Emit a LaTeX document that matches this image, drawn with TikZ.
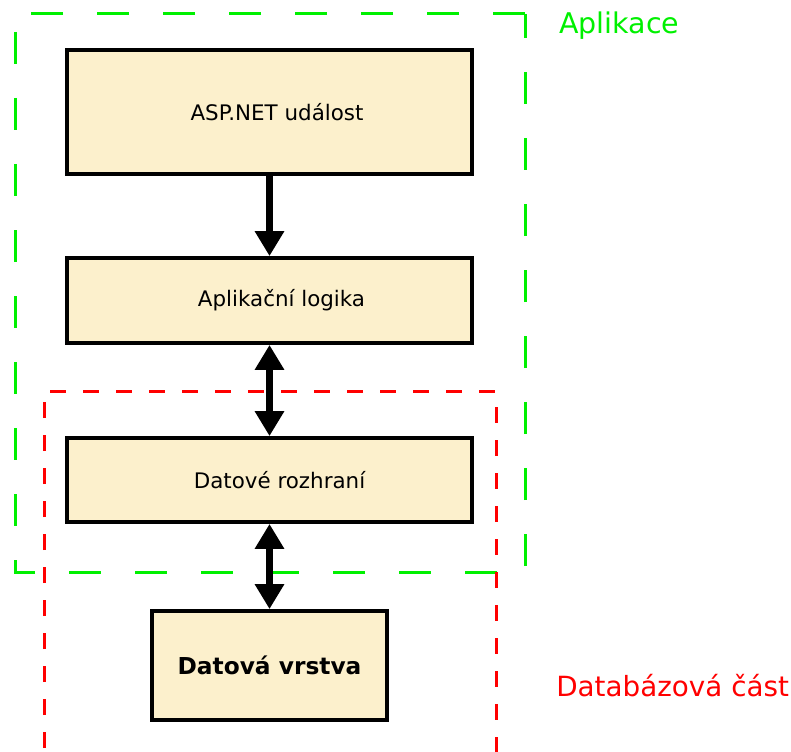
\documentclass[tikz,border=0pt]{standalone}
\usepackage{fontspec}
\setmainfont{DejaVu Sans}
\usepackage{tikz}
\usetikzlibrary{arrows.meta}

\definecolor{boxfill}{RGB}{252,240,204}
\definecolor{appgreen}{RGB}{0,240,0}
\definecolor{dbred}{RGB}{255,0,0}

\begin{document}
\begin{tikzpicture}[x=1pt,y=-1pt,->,>={Triangle[width=28pt,length=25pt]},line width=6.5pt]
    \tikzstyle{block}=[rectangle,draw=black,line width=3.8pt,fill=boxfill,minimum width=405pt,inner sep=0pt,font=\fontsize{21.4}{26}\selectfont]
    \tikzstyle{region}=[-,line width=3pt]
    \tikzstyle{annot}=[inner sep=0pt,anchor=base west]

    \useasboundingbox (0,0) rectangle (791,751);

    % Dashed regions
    \draw[region,draw=appgreen,dash pattern=on 32pt off 34pt] (525,14) -- (15,14) -- (15,572) -- (525,572) -- cycle;
    \draw[region,draw=dbred,dash pattern=on 16pt off 17pt,dash phase=21pt] (44,760) -- (44,391) -- (496,391) -- (496,760);

    % Draw the layer blocks
    \node[block,minimum height=124pt] (asp) at (269.5,112) {\hspace*{15pt}ASP.NET událost};
    \node[block,minimum height=85pt] (logika) at (269.5,300.5) {\hspace*{24pt}Aplikační logika};
    \node[block,minimum height=84pt] (rozhrani) at (269.5,480) {\hspace*{20pt}Datové rozhraní};
    \node[block,minimum width=235pt,minimum height=109pt,font=\fontsize{23.3}{28}\selectfont\bfseries] (vrstva) at (269.5,665.5) {Datová vrstva};

    % Connect the blocks
    \draw[->] (asp) -- (logika);
    \draw[<->] (logika) -- (rozhrani);
    \draw[<->] (rozhrani) -- (vrstva);

    % Annotate the regions
    \node[annot,text=appgreen,font=\fontsize{28.5}{34}\selectfont] (app-label) at (556,34) {Aplikace};
    \node[annot,text=dbred,font=\fontsize{27.8}{33}\selectfont] (db-label) at (553,696) {Databázová část};
\end{tikzpicture}
\end{document}
